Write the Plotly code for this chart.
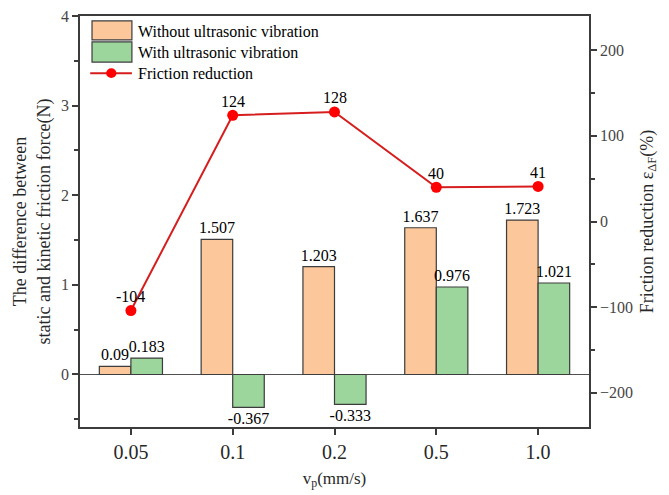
import plotly.graph_objects as go

categories = ["0.05", "0.1", "0.2", "0.5", "1.0"]
without_vib = [0.09, 1.507, 1.203, 1.637, 1.723]
with_vib = [0.183, -0.367, -0.333, 0.976, 1.021]
reduction = [-104, 124, 128, 40, 41]

FONT = "Liberation Serif, Times New Roman, serif"
ORANGE = "rgb(252,199,154)"
GREEN = "rgb(156,214,156)"
EDGE = "rgb(60,60,60)"
RED = "rgb(255,0,0)"
LINE_RED = "rgb(214,30,30)"
TXT = "rgb(40,40,40)"

fig = go.Figure()
fig.add_trace(go.Bar(
    x=categories, y=without_vib, name="Without ultrasonic vibration",
    marker=dict(color=ORANGE, line=dict(color=EDGE, width=1.2)),
    text=[str(v) for v in without_vib], textposition="outside",
    textfont=dict(family=FONT, size=16, color="black"),
    constraintext="none", cliponaxis=False,
))
fig.add_trace(go.Bar(
    x=categories, y=with_vib, name="With ultrasonic vibration",
    marker=dict(color=GREEN, line=dict(color=EDGE, width=1.2)),
    text=[str(v) for v in with_vib], textposition="outside",
    textfont=dict(family=FONT, size=16, color="black"),
    constraintext="none", cliponaxis=False,
))
fig.add_trace(go.Scatter(
    x=categories, y=reduction, name="Friction reduction", yaxis="y2",
    mode="lines+markers",
    line=dict(color=LINE_RED, width=2),
    marker=dict(color=RED, size=11),
    cliponaxis=False,
))

# Manual legend (paper coordinates)
shapes = [
    dict(type="rect", xref="paper", yref="paper", x0=0.0236, x1=0.102, y0=0.942, y1=0.988,
         fillcolor=ORANGE, line=dict(color=EDGE, width=1.2)),
    dict(type="rect", xref="paper", yref="paper", x0=0.0236, x1=0.102, y0=0.888, y1=0.937,
         fillcolor=GREEN, line=dict(color=EDGE, width=1.2)),
    dict(type="line", xref="paper", yref="paper", x0=0.02, x1=0.102, y0=0.861, y1=0.861,
         line=dict(color=LINE_RED, width=2)),
    dict(type="circle", xref="paper", yref="paper", x0=0.0515, x1=0.0715, y0=0.849, y1=0.873,
         fillcolor=RED, line=dict(color=RED, width=0)),
]
annotations = [
    dict(xref="paper", yref="paper", x=0.11, y=0.963, text="Without ultrasonic vibration",
         showarrow=False, xanchor="left", yanchor="middle", font=dict(family=FONT, size=16, color="black")),
    dict(xref="paper", yref="paper", x=0.11, y=0.912, text="With ultrasonic vibration",
         showarrow=False, xanchor="left", yanchor="middle", font=dict(family=FONT, size=16, color="black")),
    dict(xref="paper", yref="paper", x=0.11, y=0.861, text="Friction reduction",
         showarrow=False, xanchor="left", yanchor="middle", font=dict(family=FONT, size=16, color="black")),
]
# Labels for the friction-reduction points, placed at each category index in data coordinates
for idx, val in enumerate(reduction):
    annotations.append(dict(x=idx, y=val, xref="x", yref="y2", text=str(val), showarrow=False,
                            yshift=14, font=dict(family=FONT, size=16, color="black")))

fig.update_layout(
    width=661, height=487,
    margin=dict(l=72, r=80, t=8, b=68, autoexpand=False),
    paper_bgcolor="white", plot_bgcolor="white",
    barmode="group", bargap=0.38, bargroupgap=0,
    showlegend=False,
    font=dict(family=FONT, color=TXT),
    shapes=shapes, annotations=annotations,
    xaxis=dict(
        type="category", showline=True, linecolor=EDGE, linewidth=1.5, mirror=True,
        ticks="outside", ticklen=6, tickcolor=EDGE, tickwidth=1.5,
        tickfont=dict(family=FONT, size=20, color=TXT),
        title=dict(text="v<sub>p</sub>(mm/s)", font=dict(family=FONT, size=17, color=TXT), standoff=10),
        showgrid=False, automargin=False, ticklabeloverflow="allow",
    ),
    yaxis=dict(
        range=[-0.586, 4.0], tickvals=[0, 1, 2, 3, 4],
        showline=True, linecolor=EDGE, linewidth=1.5,
        ticks="outside", ticklen=6, tickcolor=EDGE, tickwidth=1.5,
        minor=dict(tickvals=[-0.5, 0.5, 1.5, 2.5, 3.5], ticks="outside", ticklen=4, tickcolor=EDGE, tickwidth=1.5),
        tickfont=dict(family=FONT, size=16, color="rgb(70,70,70)"),
        title=dict(text="The difference between<br>static and kinetic friction force(N)",
                   font=dict(family=FONT, size=18, color=TXT), standoff=6),
        showgrid=False, zeroline=True, zerolinecolor="rgb(80,80,80)", zerolinewidth=1.2,
        automargin=False, ticklabeloverflow="allow",
    ),
    yaxis2=dict(
        overlaying="y", side="right", range=[-240, 240], tickvals=[-200, -100, 0, 100, 200],
        showline=True, linecolor=EDGE, linewidth=1.5,
        ticks="outside", ticklen=6, tickcolor=EDGE, tickwidth=1.5,
        minor=dict(tickvals=[-150, -50, 50, 150], ticks="outside", ticklen=4, tickcolor=EDGE, tickwidth=1.5),
        tickfont=dict(family=FONT, size=16, color="rgb(70,70,70)"),
        title=dict(text="Friction reduction ε<sub>ΔF</sub>(%)",
                   font=dict(family=FONT, size=18, color=TXT), standoff=8),
        showgrid=False, zeroline=False, automargin=False, ticklabeloverflow="allow",
    ),
)

fig.write_html("out.html")
